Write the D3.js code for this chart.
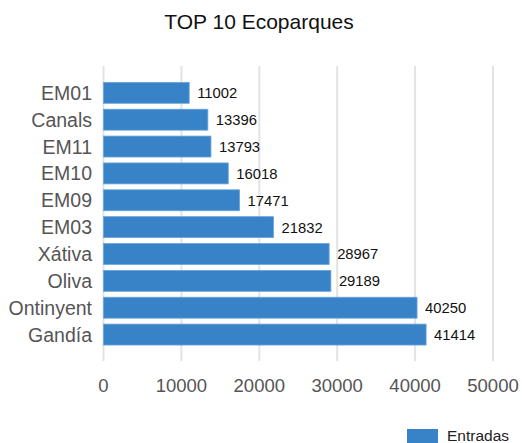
<!DOCTYPE html>
<html>
<head>
<meta charset="utf-8">
<script src="https://cdn.jsdelivr.net/npm/d3@7"></script>
<style>
  body { margin: 0; background: #fff; }
  text { font-family: Arial, "Liberation Sans", sans-serif; }
</style>
</head>
<body>
<script>
var categories = ["EM01", "Canals", "EM11", "EM10", "EM09", "EM03", "Xátiva", "Oliva", "Ontinyent", "Gandía"];
var entradas = [11002, 13396, 13793, 16018, 17471, 21832, 28967, 29189, 40250, 41414];
var xTicks = [0, 10000, 20000, 30000, 40000, 50000];

var width = 522, height = 443;
var svg = d3.select("body").append("svg")
  .attr("width", width)
  .attr("height", height);

var x = d3.scaleLinear().domain([0, 50000]).range([103.5, 493]);
var y = d3.scaleBand().domain(categories).range([79.4, 348]).paddingInner(0.22).paddingOuter(0.11);

// title
svg.append("text")
  .attr("x", 259).attr("y", 29)
  .attr("text-anchor", "middle")
  .style("font-size", "21px")
  .style("fill", "#111")
  .text("TOP 10 Ecoparques");

// gridlines
svg.append("g").selectAll("line")
  .data(xTicks)
  .join("line")
  .attr("x1", d => x(d)).attr("x2", d => x(d))
  .attr("y1", 66).attr("y2", 361)
  .attr("stroke", "#e3e3e3")
  .attr("stroke-width", 2);

// x tick labels
svg.append("g").selectAll("text")
  .data(xTicks)
  .join("text")
  .attr("x", d => x(d)).attr("y", 392)
  .attr("text-anchor", "middle")
  .style("font-size", "18.5px")
  .style("fill", "#555")
  .text(d => d);

// bars
svg.append("g").selectAll("rect")
  .data(entradas)
  .join("rect")
  .attr("x", x(0))
  .attr("y", (d, i) => y(categories[i]))
  .attr("width", d => x(d) - x(0))
  .attr("height", y.bandwidth())
  .attr("fill", "#3883c8")
  .attr("stroke", "#6aa6dc")
  .attr("stroke-width", 0.8);

// value labels
svg.append("g").selectAll("text")
  .data(entradas)
  .join("text")
  .attr("x", d => x(d) + 8)
  .attr("y", (d, i) => y(categories[i]) + y.bandwidth() / 2 + 5.5)
  .style("font-size", "14.8px")
  .style("fill", "#111")
  .text(d => d);

// category labels
svg.append("g").selectAll("text")
  .data(categories)
  .join("text")
  .attr("x", 92)
  .attr("y", d => y(d) + y.bandwidth() / 2 + 7)
  .attr("text-anchor", "end")
  .style("font-size", "19.5px")
  .style("fill", "#555")
  .text(d => d);

// legend
svg.append("rect")
  .attr("x", 407).attr("y", 429)
  .attr("width", 31).attr("height", 14)
  .attr("fill", "#3883c8");
svg.append("text")
  .attr("x", 447).attr("y", 441)
  .style("font-size", "15.5px")
  .style("fill", "#222")
  .text("Entradas");
</script>
</body>
</html>
